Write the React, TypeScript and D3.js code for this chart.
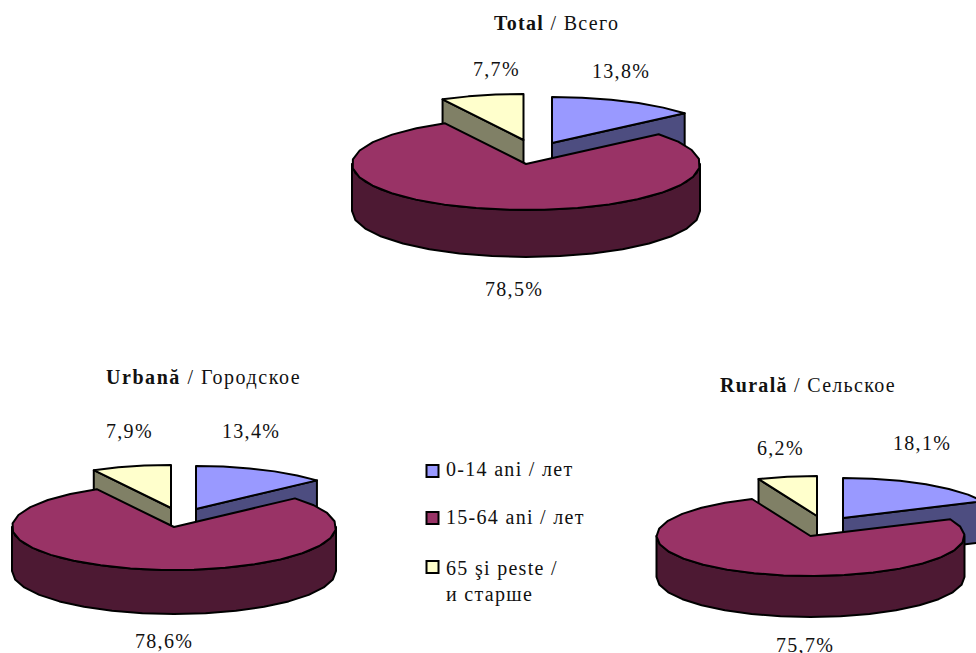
import React from "react";
import * as d3 from "d3";

const ageGroups = ["0-14 ani / лет", "15-64 ani / лет", "65 şi peste /"];
const legendContinuation = "и старше";
const totalValues = [13.8, 78.5, 7.7];
const urbanValues = [13.4, 78.6, 7.9];
const ruralValues = [18.1, 75.7, 6.2];
const topColors = ["#9999FF", "#993366", "#FFFFCC"];
const sideColors = ["#4D4D80", "#4D1933", "#808066"];

const FONT = "'Liberation Serif','Times New Roman',serif";

type Pt = [number, number];
const line = d3.line<Pt>().x((d) => d[0]).y((d) => d[1]);
const fmt = (v: number) => v.toFixed(1).replace(".", ",") + "%";

const pies = [
  {
    title: "Total", titleRest: " / Всего", titleX: 494, titleY: 30, titleSpacing: 1.3,
    values: totalValues,
    rx: 174, ry: 46, depth: 47,
    centers: [[552, 143], [526, 164], [523.5, 140]] as Pt[],
    labels: [[592, 78], [485, 296], [473, 76]] as Pt[],
  },
  {
    title: "Urbană", titleRest: " / Городское", titleX: 106, titleY: 384, titleSpacing: 1.55,
    values: urbanValues,
    rx: 162, ry: 43, depth: 44,
    centers: [[196, 509], [174, 527], [171, 508]] as Pt[],
    labels: [[222, 438], [135, 648], [106, 438]] as Pt[],
  },
  {
    title: "Rurală", titleRest: " / Сельское", titleX: 720, titleY: 392, titleSpacing: 1.3,
    values: ruralValues,
    rx: 154, ry: 40, depth: 41,
    centers: [[843, 518], [810.5, 536], [817, 516]] as Pt[],
    labels: [[893, 450], [776, 652], [757, 455]] as Pt[],
  },
];

const legendSwatchY = [465, 512, 561];
const legendTextY = [476, 524, 575];

function Pie3D({ p }: { p: (typeof pies)[number] }) {
  const arcs = d3.pie<number>().sort(null)(p.values);
  const rim = (c: Pt, t: number): Pt => [c[0] + p.rx * Math.sin(t), c[1] - p.ry * Math.cos(t)];
  const sample = (c: Pt, a: number, b: number): Pt[] => {
    const n = Math.max(2, Math.ceil((b - a) / 0.2));
    return d3.range(n + 1).map((i) => rim(c, a + ((b - a) * i) / n));
  };
  const order = [0, 2, 1];
  return (
    <g stroke="#000" strokeWidth={2} strokeLinejoin="round">
      {order.map((i) => {
        const a = arcs[i].startAngle;
        const b = arcs[i].endAngle;
        const c = p.centers[i];
        const down = (q: Pt): Pt => [q[0], q[1] + p.depth];
        const faces: Pt[][] = [];
        if (b < Math.PI) faces.push([c, rim(c, b), down(rim(c, b)), down(c)]);
        if (a > Math.PI) faces.push([c, rim(c, a), down(rim(c, a)), down(c)]);
        const wa = Math.max(a, Math.PI / 2);
        const wb = Math.min(b, (3 * Math.PI) / 2);
        if (wb > wa) {
          const r = sample(c, wa, wb);
          faces.push([...r, ...r.slice().reverse().map(down)]);
        }
        return (
          <g key={i}>
            {faces.map((f, j) => (
              <path key={j} d={line(f) + "Z"} fill={sideColors[i]} />
            ))}
            <path d={line([c, ...sample(c, a, b)]) + "Z"} fill={topColors[i]} />
          </g>
        );
      })}
    </g>
  );
}

export default function App() {
  return (
    <svg
      width={976}
      height={653}
      viewBox="0 0 976 653"
      style={{ position: "absolute", left: 0, top: 0, display: "block", background: "#fff" }}
      fontFamily={FONT}
      fontSize={20}
      letterSpacing={1.3}
      fill="#111"
    >
      {pies.map((p) => (
        <g key={p.title}>
          <Pie3D p={p} />
          <text x={p.titleX} y={p.titleY} letterSpacing={p.titleSpacing}>
            <tspan fontWeight="bold">{p.title}</tspan>
            {p.titleRest}
          </text>
          {p.values.map((v, i) => (
            <text key={i} x={p.labels[i][0]} y={p.labels[i][1]}>
              {fmt(v)}
            </text>
          ))}
        </g>
      ))}
      {ageGroups.map((g, i) => (
        <g key={g}>
          <rect x={426.5} y={legendSwatchY[i]} width={12} height={12} fill={topColors[i]} stroke="#000" strokeWidth={2} />
          <text x={446} y={legendTextY[i]}>{g}</text>
        </g>
      ))}
      <text x={446} y={601}>{legendContinuation}</text>
    </svg>
  );
}
